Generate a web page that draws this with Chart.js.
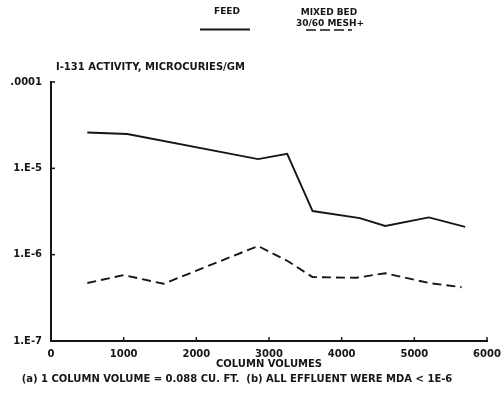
<!DOCTYPE html>
<html>
<head>
<meta charset="utf-8">
<script src="https://cdn.jsdelivr.net/npm/chart.js@4/dist/chart.umd.min.js"></script>
<style>
  html, body { margin: 0; padding: 0; background: #ffffff; }
  #wrap { width: 504px; height: 397px; position: relative; }
  canvas { display: block; }
</style>
</head>
<body>
<div id="wrap"><canvas id="c" width="504" height="397"></canvas></div>
<script>
// I-131 activity vs. column volumes (log scale)
const seriesNames = ['FEED', 'MIXED BED 30/60 MESH+'];

const feedVolumes = [500, 1050, 2850, 3250, 3600, 4250, 4600, 5200, 5700];
const feedActivity = [2.6e-5, 2.5e-5, 1.28e-5, 1.47e-5, 3.2e-6, 2.65e-6, 2.15e-6, 2.7e-6, 2.1e-6];

const bedVolumes = [500, 1000, 1550, 2850, 3250, 3600, 4200, 4600, 5200, 5650];
const bedActivity = [4.7e-7, 5.8e-7, 4.6e-7, 1.26e-6, 8.5e-7, 5.5e-7, 5.4e-7, 6.1e-7, 4.7e-7, 4.2e-7];

const yTickLabels = { '-4': '.0001', '-5': '1.E-5', '-6': '1.E-6', '-7': '1.E-7' };
const xTickValues = [0, 1000, 2000, 3000, 4000, 5000, 6000];

const yCaption = 'I-131 ACTIVITY, MICROCURIES/GM';
const xCaption = 'COLUMN VOLUMES';
const footnote = '(a) 1 COLUMN VOLUME = 0.088 CU. FT.  (b) ALL EFFLUENT WERE MDA < 1E-6';

const INK = '#161616';
const FONT = 'DejaVu Sans, Liberation Sans, sans-serif';

const toPoints = (xs, ys) => xs.map((x, i) => ({ x, y: ys[i] }));

// Inward tick marks, captions, footnote and the stacked legend
const decor = {
  id: 'decor',
  afterDraw(chart) {
    const ctx = chart.ctx;
    const xs = chart.scales.x, ys = chart.scales.y;
    const area = chart.chartArea;
    ctx.save();
    ctx.strokeStyle = INK;
    ctx.lineWidth = 1.5;
    xs.ticks.forEach(t => {
      const px = xs.getPixelForValue(t.value);
      ctx.beginPath(); ctx.moveTo(px, area.bottom); ctx.lineTo(px, area.bottom - 4); ctx.stroke();
    });
    ys.ticks.forEach(t => {
      const py = ys.getPixelForValue(t.value);
      ctx.beginPath(); ctx.moveTo(area.left, py); ctx.lineTo(area.left + 4, py); ctx.stroke();
    });

    ctx.fillStyle = INK;
    ctx.textBaseline = 'middle';
    ctx.font = 'bold 10px ' + FONT;
    ctx.textAlign = 'left';
    ctx.fillText(yCaption, area.left + 5, 67);
    ctx.textAlign = 'center';
    ctx.fillText(footnote, 237, 379);

    // legend: name above a line sample
    const ds = chart.data.datasets;
    ctx.font = 'bold 9px ' + FONT;
    ctx.fillText('FEED', 227, 12);
    ctx.fillText('MIXED BED', 329, 13);
    ctx.fillText('30/60 MESH+', 330, 24);
    ctx.lineWidth = ds[0].borderWidth;
    ctx.strokeStyle = ds[0].borderColor;
    ctx.setLineDash([]);
    ctx.beginPath(); ctx.moveTo(200, 29.5); ctx.lineTo(250, 29.5); ctx.stroke();
    ctx.lineWidth = 1.3;
    ctx.setLineDash([10, 4]);
    ctx.beginPath(); ctx.moveTo(306, 30); ctx.lineTo(352, 30); ctx.stroke();
    ctx.restore();
  }
};

new Chart(document.getElementById('c'), {
  type: 'line',
  data: {
    datasets: [
      {
        label: seriesNames[0],
        data: toPoints(feedVolumes, feedActivity),
        borderColor: INK,
        borderWidth: 1.9,
        pointRadius: 0,
        tension: 0,
        fill: false
      },
      {
        label: seriesNames[1],
        data: toPoints(bedVolumes, bedActivity),
        borderColor: INK,
        borderWidth: 1.9,
        borderDash: [9, 5],
        pointRadius: 0,
        tension: 0,
        fill: false
      }
    ]
  },
  options: {
    responsive: false,
    maintainAspectRatio: false,
    animation: false,
    devicePixelRatio: 1,
    layout: { padding: { top: 82, right: 17, left: 0, bottom: 27 } },
    plugins: {
      legend: { display: false },
      tooltip: { enabled: false }
    },
    scales: {
      x: {
        type: 'linear',
        min: 0,
        max: 6000,
        afterBuildTicks: s => { s.ticks = xTickValues.map(v => ({ value: v })); },
        afterFit: s => { s.height = 29; s.paddingLeft = 0; s.paddingRight = 0; },
        grid: { display: false, drawTicks: false },
        border: { display: true, color: INK, width: 2 },
        ticks: {
          color: INK,
          padding: 7,
          maxRotation: 0,
          autoSkip: false,
          font: { family: FONT, size: 10, weight: 'bold' },
          callback: v => String(v)
        },
        title: {
          display: true,
          text: xCaption,
          color: INK,
          padding: { top: 0, bottom: 0 },
          font: { family: FONT, size: 10, weight: 'bold' }
        }
      },
      y: {
        type: 'logarithmic',
        min: 1e-7,
        max: 1e-4,
        afterBuildTicks: s => {
          s.ticks = [-7, -6, -5, -4].map(e => ({ value: Math.pow(10, e) }));
        },
        afterFit: s => { s.width = 51; s.paddingTop = 0; s.paddingBottom = 0; },
        grid: { display: false, drawTicks: false },
        border: { display: true, color: INK, width: 2 },
        ticks: {
          color: INK,
          padding: 9,
          autoSkip: false,
          font: { family: FONT, size: 10, weight: 'bold' },
          callback: v => yTickLabels[String(Math.round(Math.log10(v)))] || ''
        }
      }
    }
  },
  plugins: [decor]
});
</script>
</body>
</html>
